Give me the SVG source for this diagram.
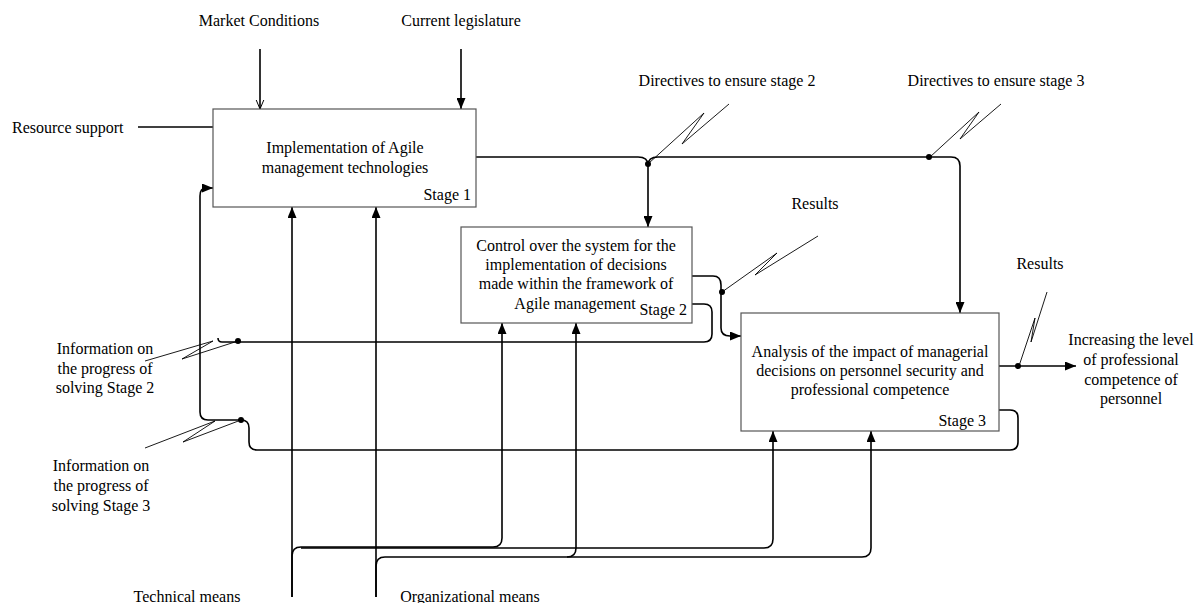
<svg xmlns="http://www.w3.org/2000/svg" width="1204" height="603" viewBox="0 0 1204 603">
<style>
text{font-family:"Liberation Serif","Times New Roman",serif;font-size:16px;fill:#000}
.c{text-anchor:middle}
.e{text-anchor:end}
.box{fill:#fff;stroke:#555;stroke-width:1.2}
.ln{fill:none;stroke:#000;stroke-width:1.6}
.sq{fill:none;stroke:#000;stroke-width:0.9}
.dot{fill:#000}
</style>
<defs>
<marker id="ah" viewBox="0 0 11 9" refX="11" refY="4.5" markerWidth="11" markerHeight="9" markerUnits="userSpaceOnUse" orient="auto">
<path d="M0,0 L11,4.5 L0,9 z" fill="#000"/>
</marker>
<marker id="oh" viewBox="0 0 10 10" refX="9.5" refY="5" markerWidth="10" markerHeight="10" markerUnits="userSpaceOnUse" orient="auto">
<path d="M0,1 L9.5,5 L0,9" fill="none" stroke="#000" stroke-width="1"/>
</marker>
</defs>
<rect width="1204" height="603" fill="#fff"/>

<g id="connectors">
<path class="ln" d="M260,49 V109" marker-end="url(#oh)"/>
<path class="ln" d="M461,49 V109" marker-end="url(#ah)"/>
<path class="ln" d="M138,127 H213"/>
<path class="ln" d="M476,157 H638 Q648,157 648,165 V227" marker-end="url(#ah)"/>
<path class="ln" d="M648,165 Q648,157 658,157 H951 Q960,157 960,166 V313" marker-end="url(#ah)"/>
<path class="ln" d="M692,276 H713 Q721,276 721,285 V328 Q721,336 730,336 H741" marker-end="url(#ah)"/>
<path class="ln" d="M692,304 H704 Q712,304 712,312 V334 Q712,342 704,342 H222 Q218,342 218,338"/>
<path class="ln" d="M999,366 H1076" marker-end="url(#ah)"/>
<path class="ln" d="M999,410 H1010 Q1018,410 1018,418 V442 Q1018,450 1010,450 H257 Q249,450 249,442 V428 Q249,420 241,420 H208 Q200,420 200,412 V196 Q200,188 206,188 H213" marker-end="url(#ah)"/>
<path class="ln" d="M292,597 V207" marker-end="url(#ah)"/>
<path class="ln" d="M292,597 V556 Q292,547 301,547 H493 Q502,547 502,538 V323" marker-end="url(#ah)"/>
<path class="ln" d="M301,548 H764 Q773,548 773,539 V431" marker-end="url(#ah)"/>
<path class="ln" d="M376,597 V207" marker-end="url(#ah)"/>
<path class="ln" d="M376,597 V566 Q376,557 385,557 H567 Q576,557 576,548 V323" marker-end="url(#ah)"/>
<path class="ln" d="M567,557 H862 Q871,557 871,548 V431" marker-end="url(#ah)"/>
<path class="sq" d="M729,104 L682,144 L704,113 L649,163"/>
<path class="sq" d="M1001,104 L960,139 L979,112 L930,157"/>
<path class="sq" d="M818,236 L755,275 L777,253 L722,292"/>
<path class="sq" d="M1047,292 L1031,342 L1035,318 L1019,366"/>
<path class="sq" d="M145,361 L213,341 L182,359 L238,341"/>
<path class="sq" d="M145,448 L215,421 L183,442 L241,420"/>
<circle class="dot" cx="648" cy="164" r="3"/>
<circle class="dot" cx="929" cy="157" r="3"/>
<circle class="dot" cx="722" cy="292" r="3"/>
<circle class="dot" cx="1018" cy="366" r="3"/>
<circle class="dot" cx="238" cy="341" r="3"/>
<circle class="dot" cx="241" cy="420" r="3"/>
</g>

<g id="stage1">
<rect class="box" x="213" y="109" width="263" height="98"/>
<text class="c" x="345" y="153">Implementation of Agile</text>
<text class="c" x="345" y="173">management technologies</text>
<text class="e" x="471" y="200">Stage 1</text>
</g>

<g id="stage2">
<rect class="box" x="461" y="227" width="231" height="96"/>
<text class="c" x="576" y="251">Control over the system for the</text>
<text class="c" x="576" y="270">implementation of decisions</text>
<text class="c" x="576" y="289">made within the framework of</text>
<text class="c" x="575" y="309">Agile management</text>
<text class="e" x="687" y="315">Stage 2</text>
</g>

<g id="stage3">
<rect class="box" x="741" y="313" width="258" height="118"/>
<text class="c" x="870" y="357">Analysis of the impact of managerial</text>
<text class="c" x="870" y="376">decisions on personnel security and</text>
<text class="c" x="870" y="395">professional competence</text>
<text class="e" x="986" y="426">Stage 3</text>
</g>

<g id="labels">
<text class="c" x="259" y="26">Market Conditions</text>
<text class="c" x="461" y="26">Current legislature</text>
<text x="12" y="133">Resource support</text>
<text class="c" x="727" y="86">Directives to ensure stage 2</text>
<text class="c" x="996" y="86">Directives to ensure stage 3</text>
<text class="c" x="815" y="209">Results</text>
<text class="c" x="1040" y="269">Results</text>
<text class="c" x="1131" y="345">Increasing the level</text>
<text class="c" x="1131" y="365">of professional</text>
<text class="c" x="1131" y="385">competence of</text>
<text class="c" x="1131" y="404">personnel</text>
<text class="c" x="105" y="354">Information on</text>
<text class="c" x="105" y="374">the progress of</text>
<text class="c" x="105" y="393">solving Stage 2</text>
<text class="c" x="101" y="471">Information on</text>
<text class="c" x="101" y="491">the progress of</text>
<text class="c" x="101" y="511">solving Stage 3</text>
<text class="c" x="187" y="602">Technical means</text>
<text class="c" x="470" y="602">Organizational means</text>
</g>
</svg>
